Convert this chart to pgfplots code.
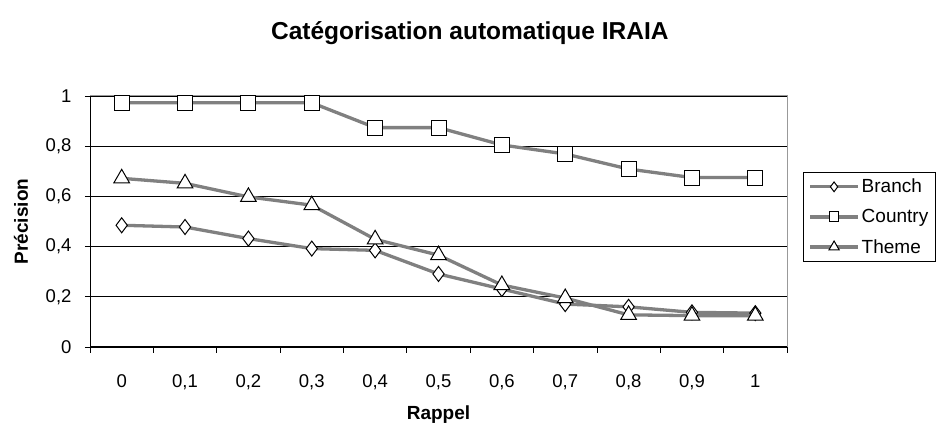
\documentclass[border=0pt]{standalone}
\usepackage{pgfplots}
\pgfplotsset{compat=1.18}
\usepackage{fontspec}
\setmainfont{Liberation Sans}
\definecolor{linegray}{RGB}{128,128,128}
\begin{document}
\begin{tikzpicture}[x=1pt,y=1pt]
\path[use as bounding box] (0,0) rectangle (940,423);
\begin{axis}[
  at={(90pt,76pt)}, anchor=south west,
  scale only axis, width=697pt, height=251pt,
  xmin=-0.5, xmax=10.5, ymin=0, ymax=1,
  xtick={0,1,2,3,4,5,6,7,8,9,10},
  xticklabels={0,{0,1},{0,2},{0,3},{0,4},{0,5},{0,6},{0,7},{0,8},{0,9},1},
  minor xtick={-0.5,0.5,1.5,2.5,3.5,4.5,5.5,6.5,7.5,8.5,9.5,10.5},
  major x tick style={draw=none},
  minor tick length=6pt,
  ytick={0,0.2,0.4,0.6,0.8,1},
  yticklabels={0,{0,2},{0,4},{0,6},{0,8},1},
  major tick length=5pt,
  tick align=outside,
  xtick pos=bottom, ytick pos=left,
  tick style={black, line width=0.8pt},
  ymajorgrids, grid style={black, line width=0.8pt},
  axis line style={draw=gray!80, line width=1pt},
  ticklabel style={font=\fontsize{18.5}{21}\selectfont},
  xticklabel style={yshift=-19pt},
  yticklabel style={xshift=-10pt},
  xlabel={\textbf{Rappel}},
  ylabel={\textbf{Précision}},
  label style={font=\fontsize{19}{21}\selectfont},
  xlabel style={at={(axis description cs:0.5,-0.27)}, anchor=center},
  ylabel style={at={(axis description cs:-0.099,0.5)}, anchor=center, rotate=0},
  title={\textbf{Catégorisation automatique IRAIA}},
  title style={at={(axis description cs:0.545,1.228)}, anchor=center, font=\fontsize{24.5}{27}\selectfont},
  legend style={at={(rel axis cs:1.023,0.698)}, anchor=north west, draw=black, line width=0.8pt,
    font=\fontsize{19}{21}\selectfont, row sep=11pt, inner sep=5pt, cells={anchor=west}},
  legend image code/.code={
    \draw[#1, line width=3.3pt] (0pt,0pt) -- (48pt,0pt);
    \draw[#1, draw=black, line width=0.8pt, /tikz/every mark/.append style={scale=0.65}] plot coordinates {(24pt,0pt)};
  },
  every axis plot/.append style={line width=3.3pt},
  clip=false,
]
\addplot[linegray, line width=3.3pt, mark=diamond*, mark size=7.5pt,
  mark options={fill=white, draw=black, line width=1pt, scale=1}]
  coordinates {(0,0.485) (1,0.478) (2,0.432) (3,0.392) (4,0.385) (5,0.291) (6,0.231) (7,0.171) (8,0.16) (9,0.138) (10,0.135)};
\addlegendentry{Branch}
\addplot[linegray, line width=3.3pt, mark=square*, mark size=7.5pt,
  mark options={fill=white, draw=black, line width=1pt}]
  coordinates {(0,0.973) (1,0.973) (2,0.973) (3,0.973) (4,0.874) (5,0.874) (6,0.805) (7,0.769) (8,0.709) (9,0.675) (10,0.675)};
\addlegendentry{Country}
\addplot[linegray, line width=3.3pt, mark=triangle*, mark size=9pt,
  mark options={fill=white, draw=black, line width=1pt}]
  coordinates {(0,0.672) (1,0.652) (2,0.598) (3,0.565) (4,0.429) (5,0.366) (6,0.247) (7,0.195) (8,0.128) (9,0.125) (10,0.125)};
\addlegendentry{Theme}
\draw[black, line width=1pt] (rel axis cs:0,1) -- (rel axis cs:0,0) -- (rel axis cs:1,0);
\end{axis}
\end{tikzpicture}
\end{document}
